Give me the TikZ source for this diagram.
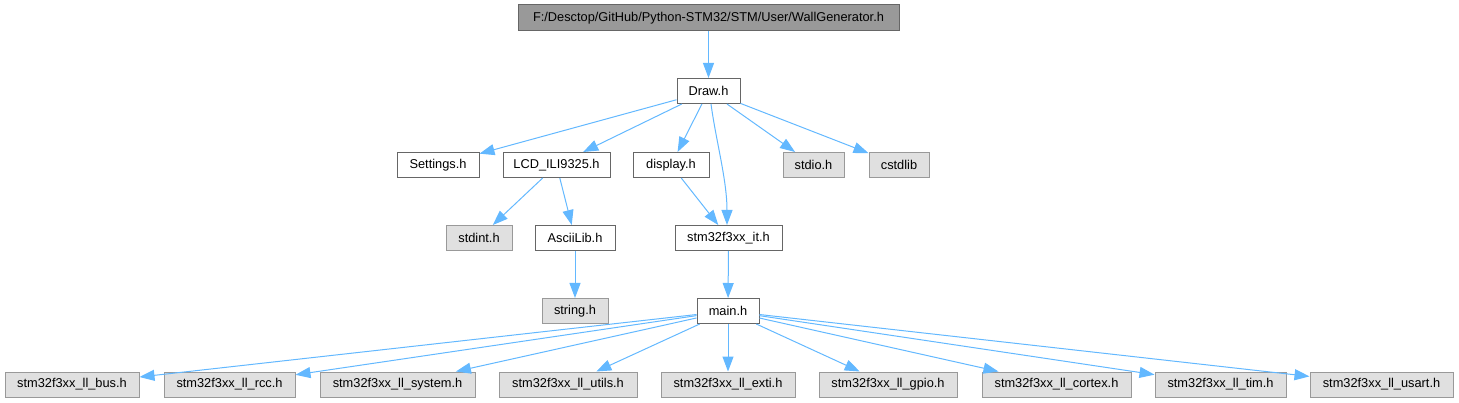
\documentclass[tikz,border=0pt]{standalone}
\usepackage{fontspec}
\setmainfont{Liberation Sans}
\usetikzlibrary{arrows.meta}
\definecolor{edgeblue}{HTML}{63B8FF}
\definecolor{boxline}{HTML}{666666}
\definecolor{extline}{HTML}{999999}
\definecolor{extfill}{HTML}{E0E0E0}
\definecolor{rootfill}{HTML}{999999}
\tikzset{
  basebox/.style={rectangle, line width=1pt, inner sep=0pt, minimum height=25pt,
    font=\fontsize{12.8}{14}\selectfont, text=black},
  filebox/.style={basebox, draw=boxline, fill=white},
  extbox/.style={basebox, draw=extline, fill=extfill},
  rootbox/.style={basebox, draw=boxline, fill=rootfill, minimum height=26pt},
  edge/.style={draw=edgeblue, line width=1pt, -{Triangle[length=15pt,width=11pt]}}
}
\begin{document}
\begin{tikzpicture}[x=1pt,y=-1pt]
\useasboundingbox (0,0) rectangle (1459,403);
% row 0
\node[rootbox, minimum width=381pt] (top) at (708.5,18) {F:/Desctop/GitHub/Python-STM32/STM/User/WallGenerator.h};
% row 1
\node[filebox, minimum width=63pt] (draw) at (708.5,91) {Draw.h};
% row 2
\node[filebox, minimum width=82pt] (settings) at (438,165) {Settings.h};
\node[filebox, minimum width=107pt] (lcd) at (556.5,165) {LCD\_ILI9325.h};
\node[filebox, minimum width=76pt] (display) at (671,165) {display.h};
\node[extbox, minimum width=61pt] (stdio) at (813.5,165) {stdio.h};
\node[extbox, minimum width=60pt] (cstdlib) at (899,165) {cstdlib};
% row 3
\node[extbox, minimum width=66pt] (stdint) at (479,238) {stdint.h};
\node[filebox, minimum width=80pt] (ascii) at (575,238) {AsciiLib.h};
\node[filebox, minimum width=107pt] (it) at (728.5,238) {stm32f3xx\_it.h};
% row 4
\node[extbox, minimum width=66pt] (string) at (575,311) {string.h};
\node[filebox, minimum width=62pt] (main) at (728,311) {main.h};
% row 5
\node[extbox, minimum width=134pt] (bus) at (72,384.5) {stm32f3xx\_ll\_bus.h};
\node[extbox, minimum width=131pt] (rcc) at (229.5,384.5) {stm32f3xx\_ll\_rcc.h};
\node[extbox, minimum width=155pt] (system) at (397.5,384.5) {stm32f3xx\_ll\_system.h};
\node[extbox, minimum width=138pt] (utils) at (568,384.5) {stm32f3xx\_ll\_utils.h};
\node[extbox, minimum width=134pt] (exti) at (728,384.5) {stm32f3xx\_ll\_exti.h};
\node[extbox, minimum width=138pt] (gpio) at (888,384.5) {stm32f3xx\_ll\_gpio.h};
\node[extbox, minimum width=149pt] (cortex) at (1056.5,384.5) {stm32f3xx\_ll\_cortex.h};
\node[extbox, minimum width=131pt] (tim) at (1220.5,384.5) {stm32f3xx\_ll\_tim.h};
\node[extbox, minimum width=143pt] (usart) at (1381.5,384.5) {stm32f3xx\_ll\_usart.h};
% edges
\draw[edge] (top) -- (draw);
\draw[edge] (draw) -- (settings);
\draw[edge] (draw) -- (lcd);
\draw[edge] (draw) -- (display);
\draw[edge] ([xshift=2.5pt]draw.south) .. controls +(5,37) and +(0,-45) .. ([xshift=-1.5pt]it.north);
\draw[edge] (draw) -- (stdio);
\draw[edge] (draw) -- (cstdlib);
\draw[edge] (lcd) -- (stdint);
\draw[edge] (lcd) -- (ascii);
\draw[edge] (display) -- (it);
\draw[edge] (ascii) -- (string);
\draw[edge] (it) -- (main);
\foreach \t in {bus,rcc,system,utils,exti,gpio,cortex,tim,usart}
  \draw[edge] (main) -- (\t);
\end{tikzpicture}
\end{document}
